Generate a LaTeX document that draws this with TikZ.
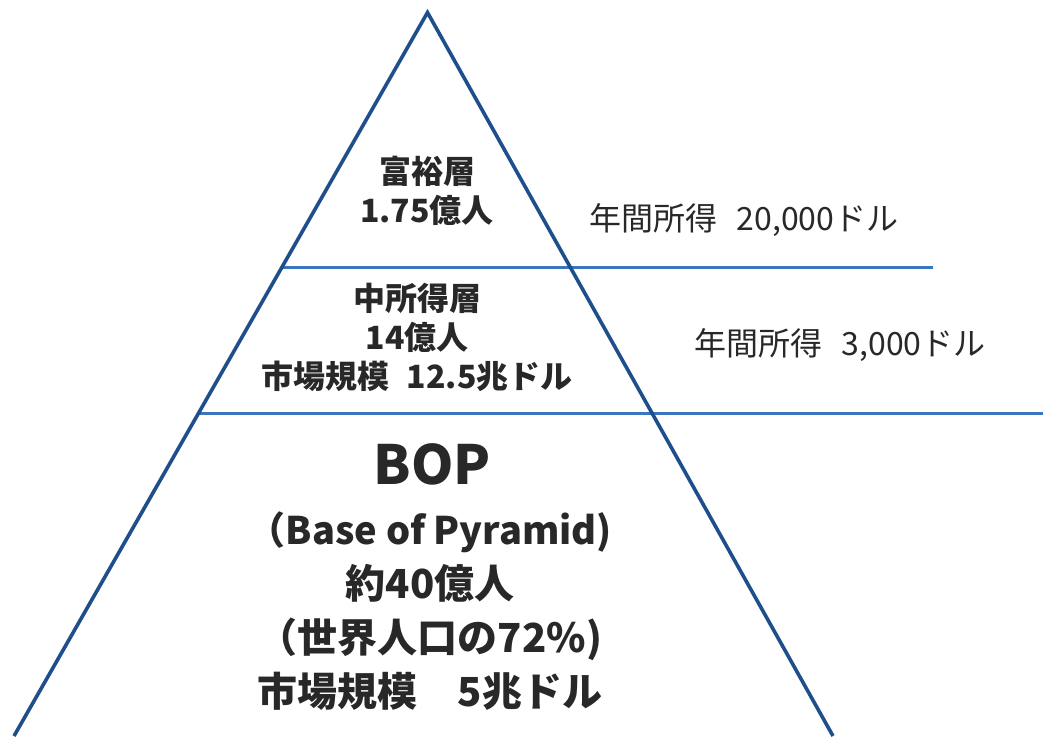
\documentclass[tikz,border=0pt]{standalone}
\usepackage{fontspec}
\setmainfont{Noto Sans CJK JP}
\usetikzlibrary{calc}
\definecolor{sideblue}{RGB}{31,78,140}
\definecolor{layerblue}{RGB}{58,118,192}
\definecolor{textgray}{RGB}{40,40,40}

\begin{document}
\begin{tikzpicture}[x=0.5pt,y=-0.5pt,
  layer/.style={align=center,text=textgray,font=\bfseries\fontsize{16}{19.5}\selectfont},
  income/.style={text=textgray,font=\fontsize{16}{19}\selectfont}]
  \useasboundingbox (0,0) rectangle (1043,736);
  \coordinate (apex) at (427.5,12.5);
  \coordinate (bl) at (14,736);
  \coordinate (br) at (833,736);
  \coordinate (cut1) at ($(apex)!0.3525!(bl)$);
  \coordinate (cut2) at ($(apex)!0.5543!(bl)$);
  \coordinate (end1) at (933,267.5);
  \coordinate (end2) at (1043,413.5);
  \begin{scope}[line width=1.8pt]
  \draw[layerblue] (cut1) -- (cut1 -| end1);
  \draw[layerblue] (cut2) -- (cut2 -| end2);
  \draw[sideblue,line join=miter] (bl) -- (apex) -- (br);
  \end{scope}
  \node[layer] (rich) at (427,191) {富裕層\\1.75億人};
  \node[layer] (middle) at (417,337) {中所得層\\14億人\\市場規模\hspace{0.55em}12.5兆ドル};
  \node[layer,font=\bfseries\fontsize{27}{30}\selectfont] (bop) at (432,464) {BOP};
  \node[layer,font=\bfseries\fontsize{20}{27}\selectfont] (bopinfo) at (430,611)
    {{\fontsize{19}{27}\selectfont（Base of Pyramid)}\\約40億人\\（世界人口の72\%)\\市場規模\hspace{1em}5兆ドル};
  \node[income] (inc1) at (744,220) {年間所得\hspace{0.6em}20,000ドル};
  \node[income] (inc2) at (840,345) {年間所得\hspace{0.6em}3,000ドル};
\end{tikzpicture}
\end{document}
